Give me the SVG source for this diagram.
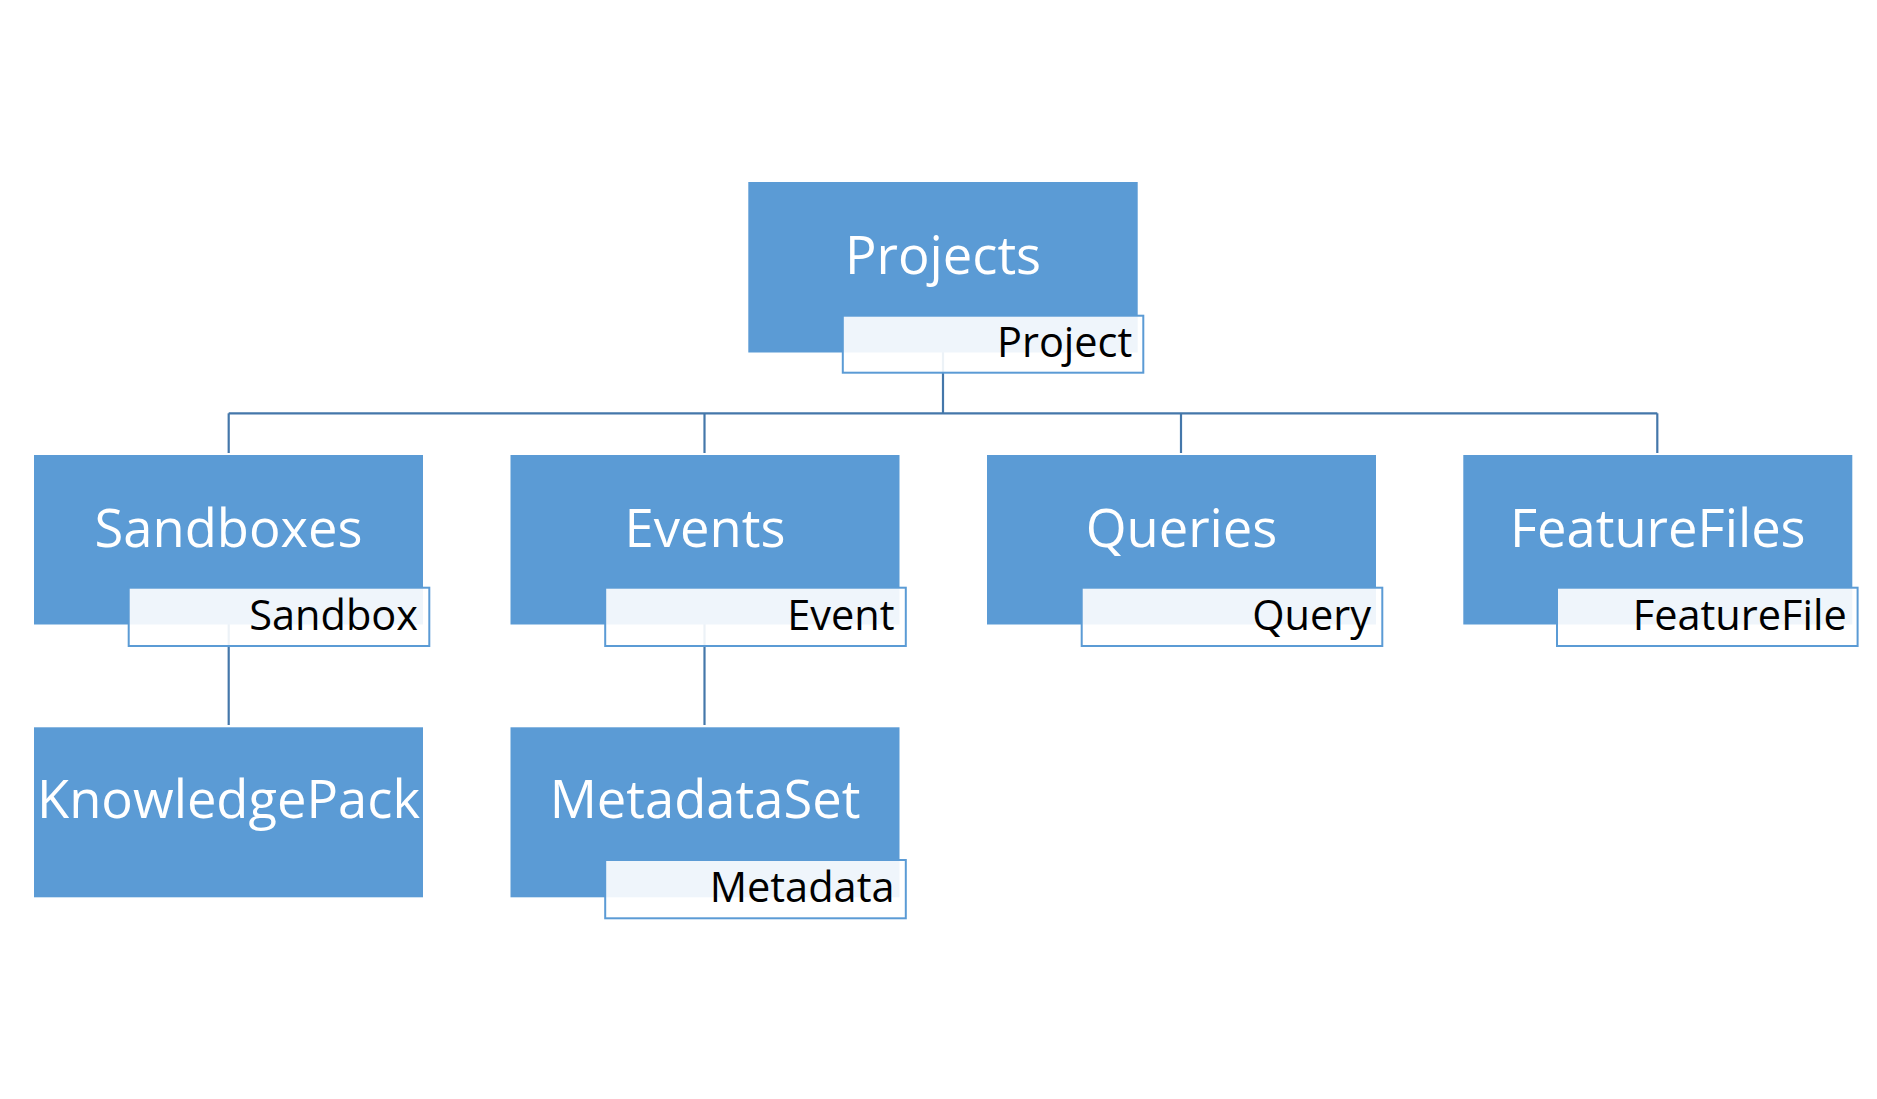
<svg xmlns="http://www.w3.org/2000/svg" width="1877" height="1099" viewBox="0 0 1877 1099">
<style>
.box{fill:#5b9bd5;}
.lbl{fill:#ffffff;fill-opacity:0.9;stroke:#5b9bd5;stroke-width:2;}
.main{font-family:"Open Sans","Noto Sans",sans-serif;font-size:52.5px;fill:#ffffff;text-anchor:middle;}
.sub{font-family:"Open Sans","Noto Sans",sans-serif;font-size:41.5px;fill:#000000;text-anchor:end;}
.conn{stroke:#4477aa;stroke-width:2.2;fill:none;}
</style>
<rect width="1877" height="1099" fill="#ffffff"/>
<g id="connectors">
<path class="conn" d="M943 352 V413.3"/>
<path class="conn" d="M228.7 413.3 H1657.3"/>
<path class="conn" d="M228.7 413.3 V453"/>
<path class="conn" d="M704.5 413.3 V453"/>
<path class="conn" d="M1181 413.3 V453"/>
<path class="conn" d="M1657.3 413.3 V453"/>
<path class="conn" d="M228.7 624 V725"/>
<path class="conn" d="M704.5 624 V725"/>
</g>
<g id="projects">
<rect class="box" x="748.3" y="182" width="389.4" height="170.5"/>
<text class="main" x="943" y="274">Projects</text>
<rect class="lbl" x="842.8" y="315.7" width="300.5" height="57"/>
<text class="sub" x="1132.3" y="357">Project</text>
</g>
<g id="sandboxes">
<rect class="box" x="34" y="455" width="389" height="169.5"/>
<text class="main" x="228.5" y="547">Sandboxes</text>
<rect class="lbl" x="128.7" y="587.7" width="300.6" height="58.3"/>
<text class="sub" x="418" y="629.5">Sandbox</text>
</g>
<g id="events">
<rect class="box" x="510.5" y="455" width="389" height="169.5"/>
<text class="main" x="705" y="547">Events</text>
<rect class="lbl" x="605.2" y="587.7" width="300.6" height="58.3"/>
<text class="sub" x="894.5" y="629.5">Event</text>
</g>
<g id="queries">
<rect class="box" x="987" y="455" width="389" height="169.5"/>
<text class="main" x="1181.5" y="547">Queries</text>
<rect class="lbl" x="1081.7" y="587.7" width="300.6" height="58.3"/>
<text class="sub" x="1371" y="629.5">Query</text>
</g>
<g id="featurefiles">
<rect class="box" x="1463.3" y="455" width="389" height="169.5"/>
<text class="main" x="1657.8" y="547">FeatureFiles</text>
<rect class="lbl" x="1557" y="587.7" width="300.6" height="58.3"/>
<text class="sub" x="1846.7" y="629.5">FeatureFile</text>
</g>
<g id="knowledgepack">
<rect class="box" x="34" y="727.3" width="389" height="170"/>
<text class="main" x="228.5" y="818">KnowledgePack</text>
</g>
<g id="metadataset">
<rect class="box" x="510.5" y="727.3" width="389" height="170"/>
<text class="main" x="705" y="818">MetadataSet</text>
<rect class="lbl" x="605.2" y="860" width="300.6" height="58.3"/>
<text class="sub" x="894.5" y="901.8">Metadata</text>
</g>
</svg>
